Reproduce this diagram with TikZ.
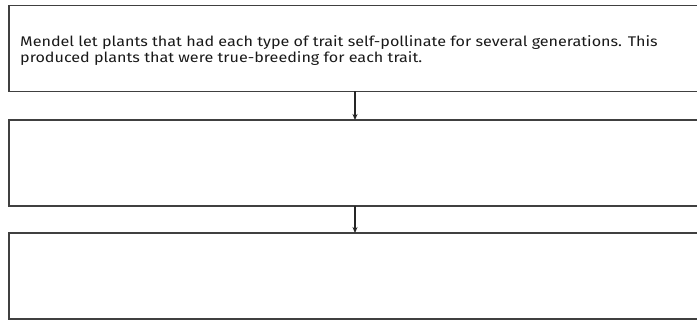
\documentclass[tikz,border=0pt]{standalone}
\usepackage{fontspec}
\setmainfont[FakeStretch=1.153]{Fira Sans}
\usetikzlibrary{arrows.meta}
\begin{document}
\begin{tikzpicture}[x=1pt,y=-1pt,
  flowbox/.style={draw=black!75,line width=1.6pt,minimum width=692pt,minimum height=86pt,inner sep=0pt,outer sep=0pt},
  flowarrow/.style={draw=black!85,line width=1.2pt,-{Stealth[length=6pt,width=5pt]}},
  boxtext/.style={align=left,inner sep=0pt,font=\fontsize{14}{16.4}\selectfont,text=black!90}]
\useasboundingbox (0,0) rectangle (697,320);
\clip (0,0) rectangle (697,320);
\node[flowbox] (b1) at (355,48.5) {};
\node[flowbox] (b2) at (355,163) {};
\node[flowbox] (b3) at (355,276) {};
\node[boxtext,anchor=north west] (t1) at (20,35) {Mendel let plants that had each type of trait self-pollinate for several generations. This\\produced plants that were true-breeding for each trait.};
\draw[flowarrow] (b1.south) -- (b2.north);
\draw[flowarrow] (b2.south) -- (b3.north);
\end{tikzpicture}
\end{document}
